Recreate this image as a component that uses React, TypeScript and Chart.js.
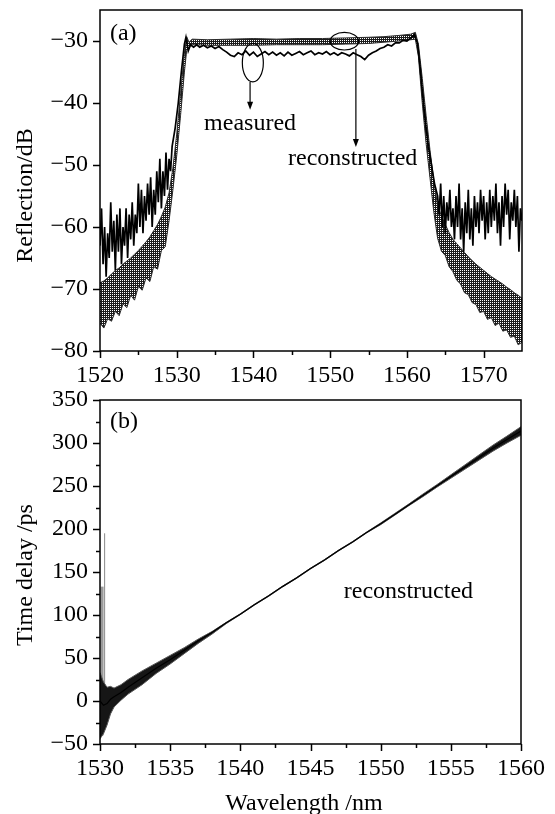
import React, { useEffect, useRef } from 'react';
import { Chart, registerables } from 'chart.js';

Chart.register(...registerables);

const FONT = '"Liberation Serif", "Times New Roman", serif';

// ---------- Panel (a): reflection spectrum ----------
const wlTicksA = [1520, 1530, 1540, 1550, 1560, 1570];
const wlMinorA = [1525, 1535, 1545, 1555, 1565];
const reflTicks = [-80, -70, -60, -50, -40, -30];
const reflMinor: number[] = [];

const measuredWl = [
  1520.0, 1520.2, 1520.4, 1520.6, 1520.8, 1521.0, 1521.2, 1521.4, 1521.6, 1521.8,
  1522.0, 1522.2, 1522.4, 1522.6, 1522.8, 1523.0, 1523.2, 1523.4, 1523.6, 1523.8,
  1524.0, 1524.2, 1524.4, 1524.6, 1524.8, 1525.0, 1525.2, 1525.4, 1525.6, 1525.8,
  1526.0, 1526.2, 1526.4, 1526.6, 1526.8, 1527.0, 1527.2, 1527.4, 1527.6, 1527.8,
  1528.0, 1528.2, 1528.4, 1528.6, 1528.8, 1529.0, 1529.2, 1529.4,
  1529.8, 1530.2, 1530.6, 1531.0, 1531.2, 1531.5, 1531.8, 1532.2, 1532.6, 1533.0,
  1533.5, 1534.0, 1534.5, 1535.0, 1535.5, 1536.0, 1536.5, 1537.0, 1537.5, 1538.0,
  1538.5, 1539.0, 1539.5, 1540.0, 1540.5, 1541.0, 1541.5, 1542.0, 1542.5, 1543.0,
  1543.5, 1544.0, 1544.5, 1545.0, 1545.5, 1546.0, 1546.5, 1547.0, 1547.5, 1548.0,
  1548.5, 1549.0, 1549.5, 1550.0, 1550.5, 1551.0, 1551.5, 1552.0, 1552.5, 1553.0,
  1553.5, 1554.0, 1554.5, 1555.0, 1555.5, 1556.0, 1556.5, 1557.0, 1557.5, 1558.0,
  1558.5, 1559.0, 1559.5, 1560.0, 1560.5, 1561.0, 1561.4, 1561.7, 1562.0, 1562.4,
  1562.8, 1563.2, 1563.6,
  1564.0, 1564.2, 1564.4, 1564.6, 1564.8, 1565.0, 1565.2, 1565.4, 1565.6, 1565.8,
  1566.0, 1566.2, 1566.4, 1566.6, 1566.8, 1567.0, 1567.2, 1567.4, 1567.6, 1567.8,
  1568.0, 1568.2, 1568.4, 1568.6, 1568.8, 1569.0, 1569.2, 1569.4, 1569.6, 1569.8,
  1570.0, 1570.2, 1570.4, 1570.6, 1570.8, 1571.0, 1571.2, 1571.4, 1571.6, 1571.8,
  1572.0, 1572.2, 1572.4, 1572.6, 1572.8, 1573.0, 1573.2, 1573.4, 1573.6, 1573.8,
  1574.0, 1574.2, 1574.4, 1574.6, 1574.8, 1575.0,
];
const measuredDb = [
  -63, -57, -66, -60, -68, -61, -65, -56, -64, -59,
  -67, -58, -64, -57, -66, -60, -63, -57, -65, -58,
  -62, -56, -63, -58, -61, -53, -60, -54, -61, -55,
  -59, -53, -58, -52, -60, -54, -58, -51, -56, -49,
  -57, -51, -55, -48, -54, -49, -51, -47,
  -44, -40, -35, -30.5, -29.4, -31.6, -30.6, -31.0, -30.6, -31.0,
  -30.7, -31.1, -30.8, -31.2, -30.9, -31.4, -31.8, -32.3, -32.5, -31.9,
  -32.2, -31.6, -32.3, -31.8, -32.5, -32.1, -31.7, -32.2, -31.8, -32.3,
  -31.9, -32.4, -31.8, -32.3, -32.0, -31.7, -32.2, -31.9, -31.6, -32.2,
  -31.9, -32.1, -31.7, -32.2, -31.9, -32.3, -31.9, -32.1, -32.4, -31.9,
  -32.2, -32.5, -33.0, -32.3, -31.9, -31.6, -31.2, -31.0, -30.6, -30.8,
  -30.3, -30.3, -29.9, -30.0, -29.5, -29.0, -30.5, -34, -38, -43,
  -47, -50, -53,
  -55, -58, -53, -60, -55, -61, -56, -59, -54, -60,
  -57, -62, -55, -60, -53, -62, -57, -64, -56, -61,
  -54, -62, -57, -63, -55, -60, -56, -61, -54, -59,
  -55, -62, -56, -61, -54, -60, -55, -59, -53, -61,
  -56, -63, -55, -60, -53, -58, -54, -62, -56, -59,
  -54, -60, -55, -64, -57, -59,
];

const recWl = [
  1520.0, 1520.5, 1521.0, 1521.5, 1522.0, 1522.5, 1523.0, 1523.5, 1524.0, 1524.5,
  1525.0, 1525.5, 1526.0, 1526.5, 1527.0, 1527.5, 1528.0, 1528.5, 1529.0, 1529.5,
  1530.0, 1530.5, 1531.0, 1531.3, 1531.6, 1532.0, 1534.0, 1537.0, 1540.0, 1543.0,
  1546.0, 1549.0, 1552.0, 1555.0, 1557.0, 1559.0, 1560.5, 1561.1, 1561.5, 1562.0,
  1562.5, 1563.0, 1563.5, 1564.0, 1564.5, 1565.0, 1565.5, 1566.0, 1566.5, 1567.0,
  1567.5, 1568.0, 1568.5, 1569.0, 1569.5, 1570.0, 1570.5, 1571.0, 1571.5, 1572.0,
  1572.5, 1573.0, 1573.5, 1574.0, 1574.5, 1575.0,
];
const recUpper = [
  -69.0, -68.7, -68.2, -67.6, -67.0, -66.6, -66.0, -65.5, -65.0, -64.4,
  -63.8, -63.1, -62.4, -61.6, -60.6, -59.6, -58.3, -56.8, -54.5, -50.5,
  -45.0, -38.5, -32.0, -29.3, -30.2, -29.7, -29.8, -29.7, -29.6, -29.7,
  -29.6, -29.6, -29.5, -29.4, -29.3, -29.1, -28.9, -28.6, -30.5, -36.0,
  -42.0, -47.5, -52.5, -56.5, -58.2, -59.6, -60.9, -62.0, -62.7, -63.4,
  -64.1, -64.8, -65.4, -66.0, -66.5, -67.0, -67.5, -68.0, -68.4, -68.8,
  -69.2, -69.7, -70.1, -70.6, -71.0, -71.5,
];
const recLower = [
  -75.5, -76.3, -74.8, -75.2, -73.6, -74.3, -72.4, -73.0, -71.0, -71.8,
  -69.6, -70.2, -68.2, -68.8, -66.4, -66.8, -63.8, -63.2, -59.0, -54.0,
  -48.5, -42.0, -35.0, -31.5, -30.9, -30.6, -30.7, -30.7, -30.7, -30.6,
  -30.6, -30.6, -30.5, -30.4, -30.2, -30.0, -29.8, -29.7, -32.5, -40.0,
  -46.5, -52.0, -57.5, -61.8, -63.9, -64.6, -66.4, -67.2, -68.6, -69.2,
  -70.6, -70.9, -72.2, -72.5, -73.8, -73.6, -74.9, -74.6, -75.9, -75.5,
  -76.8, -76.6, -77.8, -77.6, -79.0, -78.6,
];

// ---------- Panel (b): time delay ----------
const wlTicksB = [1530, 1535, 1540, 1545, 1550, 1555, 1560];
const wlMinorB = [1532.5, 1537.5, 1542.5, 1547.5, 1552.5, 1557.5];
const delayTicks = [-50, 0, 50, 100, 150, 200, 250, 300, 350];
const delayMinor = [-25, 25, 75, 125, 175, 225, 275, 325];

const delayWl = [
  1530.0, 1530.25, 1530.5, 1530.75, 1531.0, 1531.5, 1532.0, 1533.0, 1534.0, 1535.0,
  1536.0, 1537.0, 1538.0, 1539.0, 1540.0, 1541.0, 1542.0, 1543.0, 1544.0, 1545.0,
  1546.0, 1547.0, 1548.0, 1549.0, 1550.0, 1551.0, 1552.0, 1553.0, 1554.0, 1555.0,
  1556.0, 1557.0, 1558.0, 1559.0, 1560.0,
];
const delayCenter = [
  0, -5, -3, 2, 5, 10, 16, 27, 38, 48,
  59, 70, 80, 91, 101, 112, 122, 133, 143, 154,
  164, 175, 185, 196, 206, 217, 228, 239, 250, 261,
  272, 283, 294, 304, 314,
];
const delayUpper = [
  33, 22, 16, 17, 15, 19, 25, 35, 44, 53,
  62, 72, 81, 91.5, 101.5, 112.5, 122.5, 133.5, 143.5, 154.5,
  164.5, 175.5, 185.5, 196.5, 207, 218, 229, 240.5, 251.5, 263,
  274.5, 286, 297.5, 308, 319,
];
const delayLower = [
  -44, -38, -28, -15, -7, 1, 8, 19, 32, 43,
  55, 67, 78, 90, 100.5, 111.5, 121.5, 132.5, 142.5, 153.5,
  163.5, 174.5, 184.5, 195.5, 205, 216, 227, 237.5, 248.5, 259,
  269.5, 280, 290.5, 300, 309,
];
const spikeWl = [1530.15, 1530.15];
const spikeDelay = [-40, 133];
const spike2Wl = [1530.33, 1530.33];
const spike2Delay = [-20, 195];

// ---------- helpers ----------
const pts = (xs: number[], ys: number[]) => xs.map((x, i) => ({ x, y: ys[i] }));
const fmtY = (v: number | string) => {
  const n = Number(v);
  return n < 0 ? '\u2212' + Math.abs(n) : String(n);
};
const fmtX = (v: number | string) => String(v);
const setTicks = (arr: number[]) => (s: any) => {
  s.ticks = arr.map((v) => ({ value: v }));
};

function framePlugin(xMaj: number[], xMin: number[], yMaj: number[], yMin: number[]) {
  return {
    id: 'frame',
    afterDraw(chart: any) {
      const { ctx, chartArea: a, scales } = chart;
      const x = scales.x;
      const y = scales.y;
      ctx.save();
      ctx.strokeStyle = '#000';
      ctx.lineWidth = 1.5;
      ctx.strokeRect(a.left, a.top, a.right - a.left, a.bottom - a.top);
      ctx.beginPath();
      const tx = (v: number, len: number) => {
        const p = Math.round(x.getPixelForValue(v)) + 0.5;
        ctx.moveTo(p, a.bottom);
        ctx.lineTo(p, a.bottom + len);
      };
      const ty = (v: number, len: number) => {
        const p = Math.round(y.getPixelForValue(v)) + 0.5;
        ctx.moveTo(a.left, p);
        ctx.lineTo(a.left - len, p);
      };
      xMaj.forEach((v) => tx(v, 7));
      xMin.forEach((v) => tx(v, 4));
      yMaj.forEach((v) => ty(v, 7));
      yMin.forEach((v) => ty(v, 4));
      ctx.stroke();
      ctx.restore();
    },
  };
}

function arrow(ctx: CanvasRenderingContext2D, x: number, y1: number, y2: number) {
  ctx.beginPath();
  ctx.moveTo(x, y1);
  ctx.lineTo(x, y2 - 6);
  ctx.stroke();
  ctx.beginPath();
  ctx.moveTo(x - 3, y2 - 8);
  ctx.lineTo(x + 3, y2 - 8);
  ctx.lineTo(x, y2);
  ctx.closePath();
  ctx.fill();
}

const notesA = {
  id: 'notesA',
  afterDraw(chart: any) {
    const { ctx, chartArea: a, scales } = chart;
    const x = scales.x;
    const y = scales.y;
    ctx.save();
    ctx.fillStyle = '#000';
    ctx.strokeStyle = '#000';
    ctx.lineWidth = 1.2;
    ctx.font = `24px ${FONT}`;
    ctx.textBaseline = 'middle';
    ctx.textAlign = 'left';
    ctx.fillText('(a)', x.getPixelForValue(1521.3), y.getPixelForValue(-28.9));
    ctx.beginPath();
    ctx.ellipse(x.getPixelForValue(1539.92), y.getPixelForValue(-33.5), 10.5, 19.2, 0, 0, Math.PI * 2);
    ctx.stroke();
    arrow(ctx, x.getPixelForValue(1539.56), y.getPixelForValue(-36.6), y.getPixelForValue(-41.1));
    ctx.beginPath();
    ctx.ellipse(x.getPixelForValue(1551.85), y.getPixelForValue(-30.03), 14.2, 8.8, 0, 0, Math.PI * 2);
    ctx.stroke();
    arrow(ctx, x.getPixelForValue(1553.35), y.getPixelForValue(-31.3), y.getPixelForValue(-47.1));
    ctx.textAlign = 'center';
    ctx.fillText('measured', x.getPixelForValue(1539.56), y.getPixelForValue(-43.4));
    ctx.fillText('reconstructed', x.getPixelForValue(1552.93), y.getPixelForValue(-49.0));
    ctx.translate(a.left - 74, (a.top + a.bottom) / 2 + 15);
    ctx.rotate(-Math.PI / 2);
    ctx.fillText('Reflection/dB', 0, 0);
    ctx.restore();
  },
};

const notesB = {
  id: 'notesB',
  afterDraw(chart: any) {
    const { ctx, chartArea: a, scales } = chart;
    const x = scales.x;
    const y = scales.y;
    ctx.save();
    ctx.fillStyle = '#000';
    ctx.font = `24px ${FONT}`;
    ctx.textBaseline = 'middle';
    ctx.textAlign = 'left';
    ctx.fillText('(b)', x.getPixelForValue(1530.71), y.getPixelForValue(324.4));
    ctx.textAlign = 'center';
    ctx.fillText('reconstructed', x.getPixelForValue(1551.98), y.getPixelForValue(126.7));
    ctx.fillText('Wavelength /nm', a.left + 204, a.bottom + 60);
    ctx.translate(a.left - 74, (a.top + a.bottom) / 2 + 3);
    ctx.rotate(-Math.PI / 2);
    ctx.fillText('Time delay /ps', 0, 0);
    ctx.restore();
  },
};

const tickFont = { family: FONT, size: 24 };

function axisX(min: number, max: number, ticks: number[], h: number) {
  return {
    type: 'linear' as const,
    min,
    max,
    afterBuildTicks: setTicks(ticks),
    afterFit: (s: any) => {
      s.height = h;
    },
    ticks: { font: tickFont, color: '#000', padding: 10, maxRotation: 0, autoSkip: false, callback: fmtX },
    grid: { display: false, drawTicks: false },
    border: { display: false },
  };
}
function axisY(min: number, max: number, ticks: number[]) {
  return {
    type: 'linear' as const,
    min,
    max,
    afterBuildTicks: setTicks(ticks),
    afterFit: (s: any) => {
      s.width = 100;
    },
    ticks: { font: tickFont, color: '#000', padding: 12, autoSkip: false, callback: fmtY },
    grid: { display: false, drawTicks: false },
    border: { display: false },
  };
}

export default function App() {
  const refA = useRef<HTMLCanvasElement>(null);
  const refB = useRef<HTMLCanvasElement>(null);

  useEffect(() => {
    const ca = refA.current!;
    const cb = refB.current!;
    const tile = document.createElement('canvas');
    tile.width = 2;
    tile.height = 2;
    const g = tile.getContext('2d')!;
    g.fillStyle = '#1c1c1c';
    g.fillRect(0, 0, 2, 2);
    g.fillStyle = '#ffffff';
    g.fillRect(0, 0, 1, 1);
    const pattern = ca.getContext('2d')!.createPattern(tile, 'repeat');

    const common = {
      responsive: false,
      maintainAspectRatio: false,
      animation: false as const,
      events: [] as any[],
      plugins: { legend: { display: false }, tooltip: { enabled: false } },
    };

    const chartA = new Chart(ca, {
      type: 'line',
      data: {
        datasets: [
          {
            label: 'measured',
            data: pts(measuredWl, measuredDb),
            borderColor: '#000',
            borderWidth: 1.7,
            pointRadius: 0,
            fill: false,
          },
          {
            label: 'reconstructed upper',
            data: pts(recWl, recUpper),
            borderColor: '#2a2a2a',
            borderWidth: 1,
            pointRadius: 0,
            fill: false,
          },
          {
            label: 'reconstructed lower',
            data: pts(recWl, recLower),
            borderColor: '#2a2a2a',
            borderWidth: 1,
            pointRadius: 0,
            backgroundColor: pattern as any,
            fill: '-1',
          },
        ],
      },
      options: {
        ...common,
        layout: { padding: { top: 30, right: 33, left: 0, bottom: 0 } },
        scales: { x: axisX(1520, 1575, wlTicksA, 44), y: axisY(-80, -25, reflTicks) },
      } as any,
      plugins: [framePlugin(wlTicksA, wlMinorA, reflTicks, reflMinor), notesA],
    });

    const chartB = new Chart(cb, {
      type: 'line',
      data: {
        datasets: [
          {
            label: 'reconstructed',
            data: pts(delayWl, delayCenter),
            borderColor: '#000',
            borderWidth: 1.2,
            pointRadius: 0,
            fill: false,
          },
          {
            label: 'upper',
            data: pts(delayWl, delayUpper),
            borderColor: '#555',
            borderWidth: 1,
            pointRadius: 0,
            fill: false,
          },
          {
            label: 'lower',
            data: pts(delayWl, delayLower),
            borderColor: '#555',
            borderWidth: 1,
            pointRadius: 0,
            backgroundColor: '#161616',
            fill: '-1',
          },
          {
            label: 'spike',
            data: pts(spikeWl, spikeDelay),
            borderColor: '#9a9a9a',
            borderWidth: 3,
            pointRadius: 0,
            fill: false,
          },
          {
            label: 'spike2',
            data: pts(spike2Wl, spike2Delay),
            borderColor: '#888',
            borderWidth: 1,
            pointRadius: 0,
            fill: false,
          },
        ],
      },
      options: {
        ...common,
        layout: { padding: { top: 30, right: 33, left: 0, bottom: 0 } },
        scales: { x: axisX(1530, 1560, wlTicksB, 70), y: axisY(-50, 350, delayTicks) },
      } as any,
      plugins: [framePlugin(wlTicksB, wlMinorB, delayTicks, delayMinor), notesB],
    });

    return () => {
      chartA.destroy();
      chartB.destroy();
    };
  }, []);

  return (
    <div
      style={{
        position: 'absolute',
        left: 0,
        top: 0,
        width: 555,
        height: 814,
        overflow: 'hidden',
        background: '#fff',
      }}
    >
      <canvas ref={refA} width={555} height={415} style={{ position: 'absolute', left: 0, top: -20 }} />
      <canvas ref={refB} width={555} height={444} style={{ position: 'absolute', left: 0, top: 370 }} />
    </div>
  );
}
